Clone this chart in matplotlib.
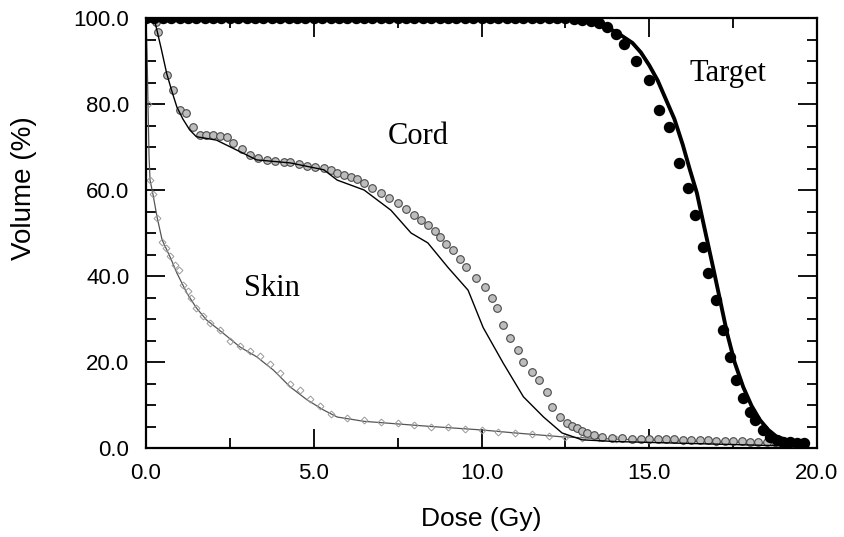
import matplotlib
matplotlib.use('Agg')
import matplotlib.pyplot as plt
from matplotlib.ticker import MultipleLocator, FormatStrFormatter

# Target: measured (dots) and calculated (line)
target_meas_dose = [0.0, 0.25, 0.5, 0.75, 1.0, 1.25, 1.5, 1.75, 2.0, 2.25, 2.5, 2.75, 3.0, 3.25,
                    3.5, 3.75, 4.0, 4.25, 4.5, 4.75, 5.0, 5.25, 5.5, 5.75, 6.0, 6.25, 6.5, 6.75,
                    7.0, 7.25, 7.5, 7.75, 8.0, 8.25, 8.5, 8.75, 9.0, 9.25, 9.5, 9.75, 10.0, 10.25,
                    10.5, 10.75, 11.0, 11.25, 11.5, 11.75, 12.0, 12.25, 12.5, 12.75, 13.0, 13.25,
                    13.5, 13.75, 14.0, 14.25, 14.6, 15.0, 15.3, 15.6, 15.9, 16.15, 16.36, 16.6,
                    16.75, 17.0, 17.2, 17.4, 17.6, 17.8, 18.0, 18.15, 18.4, 18.6, 18.8, 19.0,
                    19.2, 19.4, 19.6]
target_meas_vol = [100.0, 100.0, 100.0, 100.0, 100.0, 100.0, 100.0, 100.0, 100.0, 100.0, 100.0,
                   100.0, 100.0, 100.0, 100.0, 100.0, 100.0, 100.0, 100.0, 100.0, 100.0, 100.0,
                   100.0, 100.0, 100.0, 100.0, 100.0, 100.0, 100.0, 100.0, 100.0, 100.0, 100.0,
                   100.0, 100.0, 100.0, 100.0, 100.0, 100.0, 100.0, 100.0, 100.0, 100.0, 100.0,
                   100.0, 100.0, 100.0, 100.0, 100.0, 100.0, 99.9, 99.8, 99.6, 99.3,
                   98.8, 97.8, 96.3, 94.0, 90.0, 85.6, 78.6, 74.7, 66.3, 60.5, 54.2, 46.7,
                   40.7, 34.4, 27.4, 21.2, 15.8, 11.6, 8.4, 6.5, 4.2, 2.6, 1.8, 1.4,
                   1.3, 1.2, 1.2]
target_calc_dose = [0.0, 11.0, 12.0, 12.8, 13.2, 13.5, 14.0, 14.5, 14.75, 15.0, 15.25, 15.5,
                    15.75, 16.0, 16.2, 16.42, 16.65, 16.9, 17.1, 17.32, 17.55, 17.8, 18.05,
                    18.3, 18.55, 18.8, 19.2, 19.7]
target_calc_vol = [100.0, 100.0, 99.9, 99.6, 99.2, 98.6, 96.8, 94.2, 92.0, 89.0, 85.5, 81.0,
                   76.5, 70.5, 65.0, 59.3, 51.0, 42.1, 34.8, 26.7, 19.8, 14.2, 9.8, 6.5,
                   4.2, 2.6, 1.6, 1.3]

# Cord
cord_meas_dose = [0.0, 0.15, 0.3, 0.37, 0.62, 0.8, 1.0, 1.2, 1.4, 1.6, 1.8, 2.0, 2.2, 2.4, 2.6,
                  2.85, 3.1, 3.35, 3.6, 3.85, 4.1, 4.3, 4.55, 4.8, 5.05, 5.3, 5.5, 5.7, 5.9, 6.1,
                  6.3, 6.5, 6.75, 7.0, 7.25, 7.5, 7.75, 8.0, 8.2, 8.4, 8.6, 8.75, 8.95, 9.15,
                  9.35, 9.55, 9.85, 10.1, 10.3, 10.45, 10.65, 10.85, 11.1, 11.25, 11.5, 11.7,
                  11.95, 12.1, 12.35, 12.55, 12.7, 12.85, 13.0, 13.15, 13.35, 13.6, 13.9, 14.2,
                  14.5, 14.75, 15.0, 15.25, 15.5, 15.75, 16.0, 16.25, 16.5, 16.75, 17.0, 17.25,
                  17.5, 17.75, 18.0, 18.25, 18.5, 18.75, 19.0, 19.25, 19.5]
cord_meas_vol = [100.0, 100.0, 99.0, 96.7, 86.7, 83.3, 78.6, 78.0, 74.7, 72.8, 72.8, 72.8, 72.5,
                 72.3, 70.9, 69.5, 68.1, 67.5, 67.0, 66.8, 66.6, 66.5, 66.0, 65.6, 65.3, 65.1,
                 64.6, 64.0, 63.5, 63.0, 62.5, 61.6, 60.5, 59.3, 58.2, 57.0, 55.6, 54.2, 53.0,
                 51.9, 50.5, 49.1, 47.5, 46.0, 44.0, 42.1, 39.5, 37.4, 34.9, 32.6, 28.6, 25.6,
                 22.8, 20.0, 17.7, 15.8, 13.0, 9.5, 7.2, 5.8, 5.2, 4.7, 4.0, 3.5, 3.0, 2.6,
                 2.4, 2.3, 2.2, 2.2, 2.1, 2.1, 2.0, 2.0, 1.9, 1.9, 1.8, 1.8, 1.7, 1.7,
                 1.6, 1.6, 1.5, 1.4, 1.3, 1.3, 1.2, 1.2, 1.1]
cord_calc_dose = [0.0, 0.2, 0.27, 0.45, 0.62, 0.77, 0.92, 1.1, 1.3, 1.5, 2.1, 2.7, 3.3, 4.3, 5.3,
                  5.7, 6.5, 7.3, 7.9, 8.4, 9.0, 9.6, 10.05, 10.65, 11.25, 11.85, 12.4, 13.0, 14.0,
                  15.0, 16.0, 17.0, 18.0, 19.0, 19.5]
cord_calc_vol = [100.0, 100.0, 99.0, 93.0, 87.0, 83.0, 79.3, 76.5, 74.0, 72.4, 71.6, 69.3, 67.0,
                 66.3, 64.7, 62.3, 60.0, 55.3, 50.0, 47.7, 42.0, 36.7, 28.0, 19.7, 11.9, 7.2,
                 3.5, 1.9, 1.5, 1.3, 1.1, 0.9, 0.7, 0.5, 0.4]

# Skin
skin_meas_dose = [0.05, 0.12, 0.2, 0.33, 0.48, 0.6, 0.72, 0.85, 0.97, 1.1, 1.25, 1.35, 1.5, 1.7,
                  1.9, 2.2, 2.5, 2.8, 3.1, 3.4, 3.7, 4.0, 4.3, 4.6, 4.9, 5.2, 5.5, 6.0, 6.5, 7.0,
                  7.5, 8.0, 8.5, 9.0, 9.5, 10.0, 10.5, 11.0, 11.5, 12.0, 12.5, 13.0, 13.5, 14.0,
                  15.0, 16.0, 17.0, 18.0, 19.0]
skin_meas_vol = [80.0, 62.3, 59.0, 53.5, 48.0, 46.5, 44.6, 42.5, 41.5, 38.0, 36.5, 35.0, 32.6,
                 30.6, 29.0, 27.5, 25.0, 23.8, 22.5, 21.5, 19.5, 17.5, 15.0, 13.5, 11.5, 9.8,
                 8.0, 7.0, 6.6, 6.0, 5.8, 5.4, 5.0, 4.8, 4.5, 4.2, 3.8, 3.5, 3.2, 2.9, 2.6,
                 2.4, 2.3, 2.1, 1.9, 1.7, 1.5, 1.3, 1.1]
skin_calc_dose = [0.0, 0.03, 0.06, 0.09, 0.12, 0.2, 0.33, 0.48, 0.72, 0.92, 1.22, 1.5, 1.8, 2.3,
                  2.8, 3.3, 3.8, 4.3, 4.8, 5.3, 5.7, 6.5, 7.5, 8.5, 10.0, 11.0, 12.4, 13.5, 15.0,
                  16.5, 18.0, 19.5]
skin_calc_vol = [100.0, 92.0, 80.0, 68.0, 62.3, 59.3, 53.7, 48.4, 44.4, 40.7, 36.0, 32.6, 29.8,
                 26.7, 23.5, 21.2, 18.1, 14.2, 11.2, 8.8, 7.2, 6.2, 5.6, 5.0, 4.2, 3.5, 2.6,
                 2.2, 1.8, 1.5, 1.2, 1.0]

plt.rcParams['font.family'] = ['Liberation Sans', 'DejaVu Sans']

fig = plt.figure(figsize=(8.45, 5.37), dpi=100)
ax = fig.add_axes([146 / 845, 1 - 448 / 537, 671 / 845, 430 / 537])

# skin
ax.plot(skin_calc_dose, skin_calc_vol, color='#555555', lw=0.9, zorder=2)
ax.plot(skin_meas_dose, skin_meas_vol, ls='none', marker='D', ms=3.5, mfc='none',
        mec='#999999', mew=0.7, zorder=2)

# cord
ax.plot(cord_meas_dose, cord_meas_vol, ls='none', marker='o', ms=5.5, mfc='#bdbdbd',
        mec='#4a4a4a', mew=0.8, zorder=3)
ax.plot(cord_calc_dose, cord_calc_vol, color='black', lw=1.0, zorder=4)

# target
ax.plot(target_meas_dose, target_meas_vol, ls='none', marker='o', ms=7.2, mfc='black',
        mec='black', zorder=5)
ax.plot(target_calc_dose, target_calc_vol, color='black', lw=2.8, zorder=6)

ax.set_xlim(0, 20)
ax.set_ylim(0, 100)
ax.xaxis.set_major_locator(MultipleLocator(5))
ax.xaxis.set_minor_locator(MultipleLocator(2.5))
ax.yaxis.set_major_locator(MultipleLocator(20))
ax.yaxis.set_minor_locator(MultipleLocator(5))
ax.xaxis.set_major_formatter(FormatStrFormatter('%.1f'))
ax.yaxis.set_major_formatter(FormatStrFormatter('%.1f'))
ax.tick_params(which='both', direction='in', top=True, right=True, width=1.3,
               labelsize=16)
ax.tick_params(which='major', length=14)
ax.tick_params(which='minor', length=7)
ax.tick_params(axis='x', pad=11)
ax.tick_params(axis='y', pad=12)
for s in ax.spines.values():
    s.set_linewidth(1.6)

ax.set_xlabel('Dose (Gy)', fontsize=19, va='center')
ax.xaxis.set_label_coords(0.5, -0.165)
ax.set_ylabel('Volume (%)', fontsize=20, va='center')
ax.yaxis.set_label_coords(-0.182, 0.605)

ax.text(8.1, 72.5, 'Cord', family='Liberation Serif', fontsize=22, ha='center', va='center')
ax.text(3.75, 37, 'Skin', family='Liberation Serif', fontsize=22, ha='center', va='center')
ax.text(17.35, 87.2, 'Target', family='Liberation Serif', fontsize=22, ha='center', va='center')

fig.savefig('out.png', dpi=100)
